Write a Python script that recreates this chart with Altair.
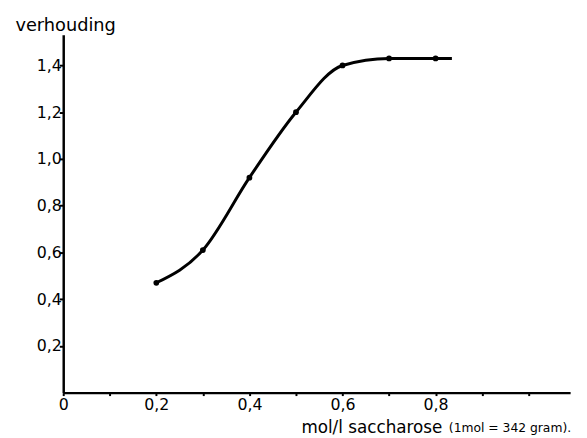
import altair as alt
import pandas as pd

# measured points (mol/l saccharose -> verhouding)
conc = [0.2, 0.3, 0.4, 0.5, 0.6, 0.7, 0.8]
ratio = [0.47, 0.61, 0.92, 1.20, 1.40, 1.43, 1.43]
# the drawn curve runs a little past the last point
line_conc = conc + [0.835]
line_ratio = ratio + [1.43]

x_ticks = [0, 0.1, 0.2, 0.3, 0.4, 0.5, 0.6, 0.7, 0.8, 0.9, 1.0]
y_ticks = [0.2, 0.4, 0.6, 0.8, 1.0, 1.2, 1.4]
note = ["(1mol = 342 gram)."]

FONT = "DejaVu Sans"

pts = pd.DataFrame({"c": conc, "r": ratio})
ln = pd.DataFrame({"c": line_conc, "r": line_ratio})

xs = alt.Scale(domain=[0, 1.089], nice=False, zero=True)
ys = alt.Scale(domain=[0, 1.532], nice=False, zero=True)

x_axis = alt.Axis(
    values=x_ticks,
    labelExpr="datum.value > 0.85 || round(datum.value*10) % 2 == 1 ? '' : (datum.value == 0 ? '0' : replace(format(datum.value, '.1f'), '.', ','))",
    title="mol/l saccharose",
    titleX=241, titleY=40, titleAlign="left", titleBaseline="alphabetic",
    titleFontSize=17, titleFontWeight="normal", titleFont=FONT, titleColor="black",
    labelFontSize=16, labelFont=FONT, labelColor="black", labelPadding=1,
    tickSize=3, tickWidth=2, tickColor="black",
    domainWidth=2.5, domainColor="black", grid=False, labelFlush=False,
)
y_axis = alt.Axis(
    values=y_ticks,
    labelExpr="replace(format(datum.value, '.1f'), '.', ',')",
    title="verhouding",
    titleAngle=0, titleX=-49, titleY=-4, titleAlign="left", titleBaseline="alphabetic",
    titleFontSize=18, titleFontWeight="normal", titleFont=FONT, titleColor="black",
    labelFontSize=16, labelFont=FONT, labelColor="black", labelPadding=-2,
    tickSize=4, tickWidth=2, tickColor="black",
    domainWidth=2.5, domainColor="black", grid=False, labelFlush=False,
)

line = alt.Chart(ln).mark_line(
    interpolate="monotone", color="black", strokeWidth=3, clip=False
).encode(
    x=alt.X("c:Q", scale=xs, axis=x_axis),
    y=alt.Y("r:Q", scale=ys, axis=y_axis),
)

dots = alt.Chart(pts).mark_circle(color="black", size=34, opacity=1).encode(
    x=alt.X("c:Q", scale=xs),
    y=alt.Y("r:Q", scale=ys),
)

txt = alt.Chart(pd.DataFrame({"t": note})).mark_text(
    align="left", baseline="alphabetic", fontSize=12.5, font=FONT, color="black"
).encode(x=alt.value(391), y=alt.value(403), text="t:N")

chart = alt.layer(line, dots, txt).properties(
    width=514, height=363,
    padding={"left": 56, "top": 24, "right": 9, "bottom": 42},
    autosize=alt.AutoSizeParams(type="none"),
    background="white",
).configure_view(stroke=None)

chart.save("out.html", embed_options={"renderer": "svg", "actions": False})
